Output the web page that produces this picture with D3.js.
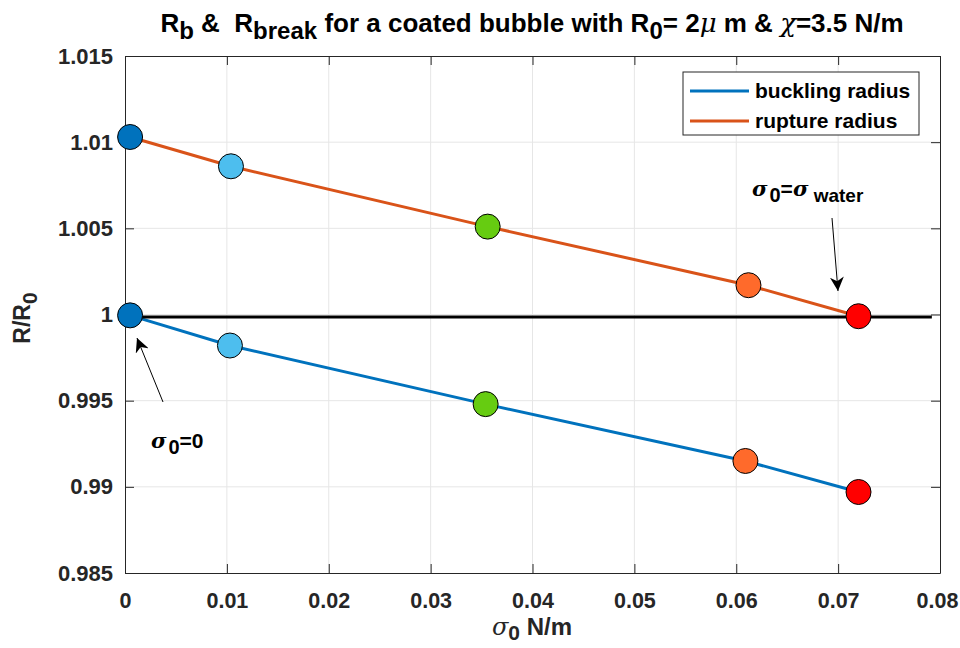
<!DOCTYPE html>
<html>
<head>
<meta charset="utf-8">
<script src="https://cdnjs.cloudflare.com/ajax/libs/d3/7.8.5/d3.min.js"></script>
<style>
  html, body { margin: 0; padding: 0; background: #fff; }
  svg { display: block; font-family: "Liberation Sans", Arial, Helvetica, sans-serif; }
  text { white-space: pre; }
</style>
</head>
<body>
<svg id="chart" width="960" height="648"></svg>
<script>
// Surface tension values (N/m) and the two radii normalised by R0
const sigma0      = [0.0005, 0.0103, 0.0354, 0.0609, 0.0720];
const sigmaRupt   = [0.0005, 0.0104, 0.0356, 0.0612, 0.0720];
const rupture     = [1.0103, 1.0086, 1.0051, 1.0017, 0.9999];
const buckling    = [0.99995, 0.9982, 0.9948, 0.9915, 0.9897];
const markerFill  = ["#0072BD", "#4DBEEE", "#66CC11", "#FF6A2B", "#FF0000"];
const referenceY  = 0.99985;
const referenceX  = [0.0005, 0.0792];
const xTicks      = [0, 0.01, 0.02, 0.03, 0.04, 0.05, 0.06, 0.07, 0.08];
const yTicks      = [0.985, 0.99, 0.995, 1, 1.005, 1.01, 1.015];
const seriesNames = ["buckling radius", "rupture radius"];
const seriesColor = ["#0072BD", "#D95319"];

const svg = d3.select("#chart");
const mLeft = 125, mRight = 940, mTop = 56, mBottom = 573;

const x = d3.scaleLinear().domain([0, 0.08]).range([mLeft, mRight]);
const y = d3.scaleLinear().domain([0.985, 1.015]).range([mBottom, mTop]);

// grid
const grid = svg.append("g");
grid.selectAll("line.vx").data(xTicks.slice(1, -1)).join("line")
  .attr("x1", d => x(d)).attr("x2", d => x(d)).attr("y1", mTop).attr("y2", mBottom)
  .attr("stroke", "#e6e6e6").attr("stroke-width", 1);
grid.selectAll("line.hy").data(yTicks.slice(1, -1)).join("line")
  .attr("x1", mLeft).attr("x2", mRight).attr("y1", d => y(d)).attr("y2", d => y(d))
  .attr("stroke", "#e6e6e6").attr("stroke-width", 1);

// axes
const fmtX = d => d === 0 ? "0" : d3.format(".2f")(d);
const fmtY = d => String(+d.toFixed(3));
const axB = svg.append("g").attr("transform", `translate(0,${mBottom})`)
  .call(d3.axisBottom(x).tickValues(xTicks).tickFormat(fmtX).tickSizeInner(-9).tickSizeOuter(0).tickPadding(20));
const axT = svg.append("g").attr("transform", `translate(0,${mTop})`)
  .call(d3.axisTop(x).tickValues(xTicks).tickFormat("").tickSizeInner(-9).tickSizeOuter(0));
const axL = svg.append("g").attr("transform", `translate(${mLeft},0)`)
  .call(d3.axisLeft(y).tickValues(yTicks).tickFormat(fmtY).tickSizeInner(-9).tickSizeOuter(0).tickPadding(12));
const axR = svg.append("g").attr("transform", `translate(${mRight},0)`)
  .call(d3.axisRight(y).tickValues(yTicks).tickFormat("").tickSizeInner(-9).tickSizeOuter(0));
[axB, axT, axL, axR].forEach(a => {
  a.attr("font-size", 22).attr("font-family", "'Liberation Sans', Arial, sans-serif");
  a.select(".domain").attr("stroke", "#262626").attr("stroke-width", 1);
  a.selectAll(".tick line").attr("stroke", "#262626");
  a.selectAll("text").attr("fill", "#262626").attr("font-size", 22).attr("font-weight", "bold");
});
axB.selectAll("text").attr("font-size", 21.5);
// keep the last x label inside the page
axB.selectAll(".tick").filter(d => d === 0.08).select("text").attr("dx", -3);

// lines
const line = d3.line().x(d => x(d[0])).y(d => y(d[1]));
svg.append("path").datum(sigmaRupt.map((s, i) => [s, rupture[i]]))
  .attr("d", line).attr("fill", "none").attr("stroke", seriesColor[1]).attr("stroke-width", 3);
svg.append("path").datum(sigma0.map((s, i) => [s, buckling[i]]))
  .attr("d", line).attr("fill", "none").attr("stroke", seriesColor[0]).attr("stroke-width", 3);
svg.append("path").datum(referenceX.map(s => [s, referenceY]))
  .attr("d", line).attr("fill", "none").attr("stroke", "#000").attr("stroke-width", 3);

// markers
const marks = svg.append("g");
marks.selectAll("circle.r").data(rupture).join("circle")
  .attr("cx", (d, i) => x(sigmaRupt[i])).attr("cy", d => y(d)).attr("r", 12.5)
  .attr("fill", (d, i) => markerFill[i]).attr("stroke", "#000").attr("stroke-width", 1);
marks.selectAll("circle.b").data(buckling).join("circle")
  .attr("cx", (d, i) => x(sigma0[i])).attr("cy", d => y(d)).attr("r", 12.5)
  .attr("fill", (d, i) => markerFill[i]).attr("stroke", "#000").attr("stroke-width", 1);

// annotation arrows
const defs = svg.append("defs");
defs.append("marker").attr("id", "head").attr("viewBox", "0 0 10 10")
  .attr("refX", 10).attr("refY", 5).attr("markerWidth", 14).attr("markerHeight", 14)
  .attr("markerUnits", "userSpaceOnUse").attr("orient", "auto")
  .append("path").attr("d", "M0,0 L10,5 L0,10 L3,5 Z").attr("fill", "#000");
svg.append("line").attr("x1", 163).attr("y1", 402).attr("x2", 137).attr("y2", 338)
  .attr("stroke", "#000").attr("stroke-width", 1).attr("marker-end", "url(#head)");
svg.append("line").attr("x1", 832).attr("y1", 218).attr("x2", 838).attr("y2", 291)
  .attr("stroke", "#000").attr("stroke-width", 1).attr("marker-end", "url(#head)");

const ann1 = svg.append("text").attr("x", 151).attr("y", 448)
  .attr("font-size", 21).attr("font-weight", "bold").attr("fill", "#000");
ann1.append("tspan").attr("font-family", "'DejaVu Serif', serif").attr("font-style", "italic").text("σ");
ann1.append("tspan").attr("dx", 2).attr("dy", 6).attr("font-size", 20).text("0");
ann1.append("tspan").attr("dy", -6).text("=0");

const ann2 = svg.append("text").attr("x", 752).attr("y", 196)
  .attr("font-size", 21).attr("font-weight", "bold").attr("fill", "#000");
ann2.append("tspan").attr("font-family", "'DejaVu Serif', serif").attr("font-style", "italic").text("σ");
ann2.append("tspan").attr("dx", 2).attr("dy", 6).attr("font-size", 20).text("0");
ann2.append("tspan").attr("dy", -6).text("=");
ann2.append("tspan").attr("font-family", "'DejaVu Serif', serif").attr("font-style", "italic").text("σ");
ann2.append("tspan").attr("dy", 6).attr("font-size", 19).text(" water");

// legend
const lg = svg.append("g");
lg.append("rect").attr("x", 683).attr("y", 72).attr("width", 236).attr("height", 63)
  .attr("fill", "#fff").attr("stroke", "#262626").attr("stroke-width", 1);
seriesNames.forEach((name, i) => {
  const yy = 91 + i * 30;
  lg.append("line").attr("x1", 690).attr("x2", 749).attr("y1", yy).attr("y2", yy)
    .attr("stroke", seriesColor[i]).attr("stroke-width", 3);
  lg.append("text").attr("x", 755).attr("y", yy + 7).attr("font-size", 21)
    .attr("font-weight", "bold").attr("fill", "#000").text(name);
});

// title
const title = svg.append("text").attr("x", 532).attr("y", 32).attr("text-anchor", "middle")
  .attr("font-size", 26).attr("font-weight", "bold").attr("fill", "#000");
title.append("tspan").text("R");
title.append("tspan").attr("dy", 7).attr("font-size", 24).text("b");
title.append("tspan").attr("dy", -7).text(" &  R");
title.append("tspan").attr("dy", 7).attr("font-size", 24).text("break");
title.append("tspan").attr("dy", -7).text(" for a coated bubble with R");
title.append("tspan").attr("dy", 7).attr("font-size", 24).text("0");
title.append("tspan").attr("dy", -7).text("= 2");
title.append("tspan").attr("font-family", "'DejaVu Serif', serif").attr("font-style", "italic").attr("font-weight", "normal").text("μ");
title.append("tspan").text(" m & ");
title.append("tspan").attr("font-family", "'DejaVu Serif', serif").attr("font-style", "italic").attr("font-weight", "normal").text("χ");
title.append("tspan").text("=3.5 N/m");

// axis titles
const xl = svg.append("text").attr("x", 532).attr("y", 635).attr("text-anchor", "middle")
  .attr("font-size", 24).attr("font-weight", "bold").attr("fill", "#262626");
xl.append("tspan").attr("font-family", "'DejaVu Serif', serif").attr("font-style", "italic").attr("font-weight", "normal").text("σ");
xl.append("tspan").attr("dy", 5).attr("font-size", 21).text("0");
xl.append("tspan").attr("dy", -5).text(" N/m");

const yl = svg.append("text").attr("transform", "translate(30,318) rotate(-90)")
  .attr("text-anchor", "middle").attr("font-size", 23).attr("font-weight", "bold").attr("fill", "#262626");
yl.append("tspan").text("R/R");
yl.append("tspan").attr("dy", 7).attr("font-size", 21).text("0");
</script>
</body>
</html>
